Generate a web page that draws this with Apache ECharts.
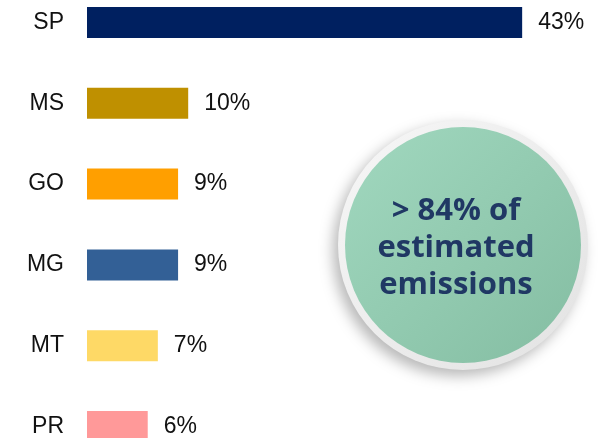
<!DOCTYPE html>
<html>
<head>
<meta charset="utf-8">
<script src="https://cdn.jsdelivr.net/npm/echarts@6/dist/echarts.min.js"></script>
<style>
  html, body { margin: 0; padding: 0; background: #ffffff; }
  #chart { width: 615px; height: 438px; }
</style>
</head>
<body>
<div id="chart"></div>
<script>
// States and their share of estimated emissions (%)
const states = ['SP', 'MS', 'GO', 'MG', 'MT', 'PR'];
const shares = [43, 10, 9, 9, 7, 6];
const barColors = ['#002060', '#bf9000', '#ff9f00', '#336096', '#fed966', '#ff9999'];
const calloutLines = ['> 84% of', 'estimated', 'emissions'];

const chart = echarts.init(document.getElementById('chart'), null, { renderer: 'canvas' });

const cx = 463, cy = 245;

chart.setOption({
  animation: false,
  grid: { left: 87, right: 22, top: 22.5, bottom: 11.5, containLabel: false },
  xAxis: {
    type: 'value', min: 0, max: 50,
    show: false
  },
  yAxis: {
    type: 'category',
    data: states,
    inverse: true,
    boundaryGap: false,
    axisLine: { show: false },
    axisTick: { show: false },
    splitLine: { show: false },
    axisLabel: {
      align: 'right',
      margin: 23,
      fontSize: 23,
      color: '#111111',
      fontFamily: 'Liberation Sans'
    }
  },
  series: [{
    type: 'bar',
    clip: false,
    data: shares.map((v, i) => ({ value: v, itemStyle: { color: barColors[i] } })),
    barWidth: 31,
    label: {
      show: true,
      position: 'right',
      distance: 16,
      fontSize: 23,
      color: '#111111',
      fontFamily: 'Liberation Sans',
      formatter: p => p.value + '%'
    }
  }],
  graphic: [
    {
      type: 'circle',
      shape: { cx: cx, cy: cy, r: 125 },
      style: {
        fill: new echarts.graphic.LinearGradient(0, 0, 1, 1, [
          { offset: 0, color: '#f7f7f7' },
          { offset: 1, color: '#e2e2e2' }
        ]),
        shadowBlur: 14,
        shadowOffsetX: -5,
        shadowOffsetY: 6,
        shadowColor: 'rgba(0,0,0,0.28)'
      },
      z: 10
    },
    {
      type: 'circle',
      shape: { cx: cx, cy: cy, r: 118 },
      style: {
        fill: new echarts.graphic.LinearGradient(0, 0, 1, 1, [
          { offset: 0, color: '#a1d8bf' },
          { offset: 1, color: '#84bda2' }
        ])
      },
      z: 11
    },
    {
      type: 'text',
      x: 456, y: 248,
      style: {
        text: calloutLines.join('\n'),
        align: 'center',
        verticalAlign: 'middle',
        fontSize: 31,
        lineHeight: 37,
        fontWeight: 'bold',
        fontFamily: 'Open Sans',
        fill: '#203864'
      },
      z: 12
    }
  ]
});
</script>
</body>
</html>
